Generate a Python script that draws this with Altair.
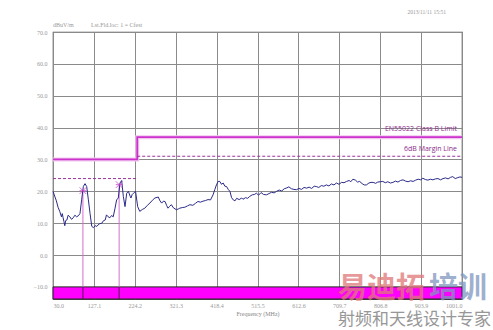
import altair as alt
import pandas as pd

# ---- data ----
freq = [30, 34, 38, 42, 46, 50, 52, 54, 56, 58, 60, 63, 66, 70, 74, 78, 82, 86, 90, 94,
        98, 102, 106, 110, 114, 118, 122, 126, 130, 134, 140, 146, 150, 154, 157, 161, 165,
        169, 173, 177, 181, 185, 189, 193, 197, 201, 205, 209, 213, 215, 218, 221, 226, 231,
        236, 242, 248, 254, 260, 266, 272, 280, 284, 288, 292, 296, 300, 303, 307, 311, 316,
        323, 328, 331, 337, 343, 349, 355, 362, 368, 374, 380, 386, 392, 398, 404, 410, 414,
        418, 422, 426, 430, 434, 438, 442, 446, 450, 454, 458, 462, 466, 472, 478, 481, 487,
        492, 497, 503, 508, 513, 518, 524, 530, 537, 543, 549, 555, 561, 567, 573, 579, 584,
        590, 596, 602, 608, 614, 620, 626, 632, 638, 644, 650, 655, 661, 667, 673, 679, 685,
        691, 697, 703, 709, 715, 721, 727, 733, 737, 742, 748, 753, 758, 764, 769, 774, 780,
        785, 790, 796, 801, 807, 813, 819, 825, 831, 837, 843, 849, 855, 861, 867, 873, 879,
        885, 891, 897, 903, 908, 914, 920, 926, 932, 938, 944, 950, 956, 962, 968, 974, 979,
        985, 991, 996, 1001]
level = [20.0, 18.5, 17.0, 15.0, 13.7, 12.0, 13.0, 11.7, 10.5, 9.2, 10.8, 11.0, 12.5, 12.0,
         11.2, 11.7, 12.5, 12.0, 12.3, 13.0, 17.3, 21.5, 22.4, 21.5, 17.3, 13.0, 9.0, 8.6,
         9.2, 9.0, 9.8, 10.0, 10.8, 11.0, 12.6, 12.0, 11.7, 12.4, 12.0, 14.5, 17.3, 17.9,
         22.6, 23.4, 18.4, 15.2, 19.4, 20.0, 18.5, 17.9, 19.0, 19.4, 20.0, 15.2, 13.7, 14.3,
         14.7, 15.6, 16.3, 17.2, 17.9, 18.2, 17.0, 16.3, 16.9, 16.8, 15.5, 14.7, 15.3, 15.8,
         14.8, 14.2, 14.5, 14.7, 14.9, 15.0, 15.4, 15.8, 15.6, 16.2, 16.8, 16.6, 16.9, 17.1,
         17.4, 17.3, 18.9, 20.5, 22.0, 23.1, 23.1, 22.2, 22.6, 21.6, 21.5, 20.6, 20.0, 18.0,
         17.3, 17.0, 17.8, 17.4, 17.9, 17.5, 18.0, 17.8, 18.4, 18.9, 19.0, 19.4, 18.8, 19.6,
         19.0, 18.9, 19.3, 19.7, 19.5, 20.0, 20.4, 20.1, 20.8, 21.0, 21.4, 20.8, 20.6, 20.5,
         20.9, 20.6, 21.2, 21.0, 21.3, 20.9, 21.6, 21.5, 21.2, 21.8, 21.6, 22.0, 21.7, 22.3,
         22.0, 22.6, 22.2, 22.8, 22.7, 23.1, 23.4, 23.0, 23.8, 23.5, 22.9, 23.1, 22.4, 22.0,
         22.0, 22.6, 22.8, 22.8, 22.5, 22.9, 23.0, 23.1, 22.7, 23.0, 22.6, 22.8, 23.2, 22.9,
         23.4, 23.6, 23.2, 23.0, 23.3, 23.1, 23.5, 23.8, 23.6, 24.1, 23.7, 23.5, 23.8, 23.6,
         23.9, 24.0, 23.6, 24.0, 24.2, 23.9, 24.4, 24.6, 24.0, 24.3, 24.5, 24.4]

limit_freq = [30, 230, 230, 1001]
limit_level = [30, 30, 37, 37]
margin_seg = ["a", "a", "b", "b"]
margin_freq = [30, 230, 230, 1001]
margin_level = [24, 24, 31, 31]

marker_freq = [101, 187]
marker_level = [20.2, 22.1]

x_ticks = [30.0, 127.1, 224.2, 321.3, 418.4, 515.5, 612.6, 709.7, 806.8, 903.9, 1001.0]
y_ticks = [-10, 0, 10, 20, 30, 40, 50, 60, 70]
x_min, x_max = 30, 1001
y_min, y_max = -13.8, 70
bar_top = -10

W, H = 409, 267
xs = alt.Scale(domain=[x_min, x_max], nice=False, zero=False)
ys = alt.Scale(domain=[y_min, y_max], nice=False, zero=False)

trace_df = pd.DataFrame({"f": freq, "v": level})
limit_df = pd.DataFrame({"f": limit_freq, "v": limit_level, "o": range(4)})
margin_df = pd.DataFrame({"f": margin_freq, "v": margin_level, "s": margin_seg, "o": range(4)})
marker_df = pd.DataFrame({"f": marker_freq, "v": marker_level, "b": [bar_top] * 2, "lo": [y_min] * 2})
bar_df = pd.DataFrame({"f": [x_min], "f2": [x_max], "v": [y_min], "v2": [bar_top]})

axis_common = dict(labelFont="Liberation Serif", labelFontSize=6, labelColor="#999999",
                   gridColor="#8a8a8a", gridWidth=1, gridOpacity=1, domain=False, ticks=False,
                   labelOverlap=False, tickCount=40)

grid_base = alt.Chart(trace_df).mark_point(opacity=0).encode(
    x=alt.X("f:Q", scale=xs,
            axis=alt.Axis(values=x_ticks, format=".1f", title="Frequency (MHz)",
                          titleFont="Liberation Serif", titleFontSize=6, titleColor="#888888",
                          titleFontWeight="normal", titlePadding=2, labelPadding=3, **axis_common)),
    y=alt.Y("v:Q", scale=ys,
            axis=alt.Axis(values=y_ticks, format=".1f", title=None, labelPadding=6, **axis_common)),
)

bar = alt.Chart(bar_df).mark_rect(color="#ff00ff", stroke="#222222", strokeWidth=1).encode(
    x=alt.X("f:Q", scale=xs), x2="f2:Q", y=alt.Y("v:Q", scale=ys), y2="v2:Q")

vlines = alt.Chart(marker_df).mark_rule(color="#d070d0", strokeWidth=1).encode(
    x=alt.X("f:Q", scale=xs), y=alt.Y("v:Q", scale=ys), y2="b:Q")
bar_div = alt.Chart(marker_df).mark_rule(color="#551155", strokeWidth=1).encode(
    x=alt.X("f:Q", scale=xs), y=alt.Y("b:Q", scale=ys), y2="lo:Q")

limit_halo = alt.Chart(limit_df).mark_line(color="#f2c6f0", strokeWidth=4).encode(
    x=alt.X("f:Q", scale=xs), y=alt.Y("v:Q", scale=ys), order="o:Q")
limit = alt.Chart(limit_df).mark_line(color="#cc33cc", strokeWidth=1.8).encode(
    x=alt.X("f:Q", scale=xs), y=alt.Y("v:Q", scale=ys), order="o:Q")

margin = alt.Chart(margin_df).mark_line(color="#993399", strokeWidth=1, strokeDash=[3, 2]).encode(
    x=alt.X("f:Q", scale=xs), y=alt.Y("v:Q", scale=ys), detail="s:N", order="o:Q")

trace = alt.Chart(trace_df).mark_line(color="#2a2a8a", strokeWidth=1).encode(
    x=alt.X("f:Q", scale=xs), y=alt.Y("v:Q", scale=ys))

markers = alt.Chart(marker_df).mark_point(shape="M-1,-1L1,1M-1,1L1,-1M-1,0L1,0", filled=False,
                                          size=45, color="#cc33cc", strokeWidth=1).encode(
    x=alt.X("f:Q", scale=xs), y=alt.Y("v:Q", scale=ys))

def label(txt, x, y, align="left", size=6, color="#999999", font="Liberation Serif", weight="normal", opacity=1):
    return alt.Chart(pd.DataFrame({"t": [txt]})).mark_text(
        align=align, baseline="middle", fontSize=size, color=color, font=font,
        fontWeight=weight, opacity=opacity).encode(
        text="t:N", x=alt.value(x), y=alt.value(y))

texts = [
    label("dBuV/m", 0, -7),
    label("Lst.Fld.loc: 1 = Cfest", 38, -7),
    label("2013/11/11 15:51", 393, -20, align="right", size=5.5),
    label("EN55022 Class B Limit", 404, 97, align="right", size=7, color="#8a2b8a", font="Open Sans"),
    label("6dB Margin Line", 404, 117, align="right", size=7, color="#8a2b8a", font="Open Sans"),
    label("易迪拓", 285, 257, size=29, color="#e07878", font="Noto Sans CJK SC", weight="bold", opacity=0.75),
    label("培训", 376, 257, size=29, color="#7f96bf", font="Noto Sans CJK SC", weight="bold", opacity=0.75),
    label("射频和天线设计专家", 285, 288, size=17, color="#8c8c8c", font="Noto Sans CJK SC", opacity=0.9),
]

chart = alt.layer(grid_base, bar, vlines, bar_div, limit_halo, limit, margin, trace, markers, *texts).properties(
    width=W, height=H,
    autosize=alt.AutoSizeParams(type="none"),
    padding={"left": 53, "top": 32, "right": 31, "bottom": 31},
    background="white",
).configure_view(stroke="#555555", strokeWidth=1.2)

chart.save("out.html", embed_options={"renderer": "svg", "actions": False})
